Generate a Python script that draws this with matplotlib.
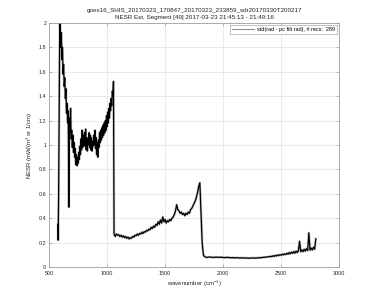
import numpy as np
import matplotlib
matplotlib.use("Agg")
import matplotlib.pyplot as plt

plt.rcParams['font.family'] = ['Liberation Sans', 'DejaVu Sans']
plt.rcParams['mathtext.default'] = 'regular'

# ---- data (wavenumber segments and NESR values) ----
rise_wn = [576, 578, 582, 588, 592]
rise_val = [0.35, 0.22, 0.60, 1.40, 2.05]

lw_range = (595, 1055)
lw_val = [1.98, 1.80, 1.92, 1.70, 1.80, 1.58, 1.66, 1.48, 1.55, 1.38,
          1.46, 1.26, 1.34, 1.18, 1.28, 0.49, 1.22, 1.10, 1.30, 1.05,
          1.12, 0.98, 1.08, 0.94, 1.02, 0.90, 0.97, 0.84, 0.92, 0.83,
          0.90, 0.85, 0.94, 0.88, 0.99, 0.92, 1.05, 0.96, 1.12, 0.98,
          1.08, 1.00, 1.10, 0.99, 1.13, 0.96, 1.06, 0.95, 1.04, 1.00,
          1.10, 0.98, 1.08, 0.96, 1.06, 0.95, 1.03, 0.99, 1.08, 1.00,
          1.12, 0.97, 1.06, 0.92, 1.02, 0.90, 1.04, 0.98, 1.10, 1.02,
          1.12, 1.04, 1.14, 1.06, 1.16, 1.08, 1.18, 1.10, 1.20, 1.12,
          1.24, 1.15, 1.27, 1.18, 1.30, 1.22, 1.34, 1.28, 1.38, 1.32,
          1.44, 1.40, 1.52]

mw_range = (1060, 1800)
mw_val = [0.27, 0.25, 0.27, 0.26, 0.265, 0.25, 0.26, 0.245, 0.255, 0.24,
          0.25, 0.235, 0.245, 0.23, 0.24, 0.235, 0.25, 0.245, 0.26, 0.255,
          0.27, 0.26, 0.275, 0.27, 0.285, 0.275, 0.29, 0.285, 0.30, 0.295,
          0.31, 0.305, 0.325, 0.315, 0.335, 0.325, 0.35, 0.34, 0.37, 0.35,
          0.385, 0.36, 0.41, 0.37, 0.39, 0.36, 0.38, 0.37, 0.39, 0.38,
          0.40, 0.41, 0.43, 0.46, 0.51, 0.47, 0.46, 0.44, 0.45, 0.43,
          0.44, 0.42, 0.44, 0.43, 0.45, 0.44, 0.47, 0.48, 0.50, 0.52,
          0.54, 0.57, 0.61, 0.66, 0.69]

drop_wn = [1810, 1820, 1830]
drop_val = [0.45, 0.20, 0.10]

sw1_range = (1840, 2400)
sw1_val = [0.085, 0.078, 0.082, 0.080, 0.078, 0.081, 0.079, 0.080, 0.078, 0.077,
           0.079, 0.076, 0.077, 0.075, 0.076, 0.074, 0.075, 0.073, 0.074, 0.072,
           0.073, 0.074, 0.073, 0.075, 0.076, 0.078, 0.080, 0.082, 0.085]

sw2_range = (2410, 2800)
sw2_val = [0.088, 0.084, 0.092, 0.087, 0.095, 0.090, 0.098, 0.093, 0.101, 0.096,
           0.105, 0.099, 0.108, 0.102, 0.112, 0.105, 0.118, 0.108, 0.122, 0.112,
           0.126, 0.114, 0.130, 0.118, 0.135, 0.210, 0.125, 0.140, 0.126, 0.145,
           0.130, 0.150, 0.135, 0.280, 0.138, 0.155, 0.140, 0.162, 0.145, 0.230]

title_lines = ["goes16_SHIS_20170323_170847_20170323_233859_sdr20170330T200217",
               "NESR Est, Segment [49] 2017-03-23 21:45:13 - 21:49:16"]
legend_label = "std(rad - pc filt rad), # recs:  289"
xticks = [500, 1000, 1500, 2000, 2500, 3000]
yticks = [0, 0.2, 0.4, 0.6, 0.8, 1, 1.2, 1.4, 1.6, 1.8, 2]
ytick_labels = ['0', '0.2', '0.4', '0.6', '0.8', '1', '1.2', '1.4', '1.6', '1.8', '2']

# ---- assemble ----
def seg(rng, vals):
    return np.linspace(rng[0], rng[1], len(vals))

wn = np.concatenate([rise_wn, seg(lw_range, lw_val), seg(mw_range, mw_val),
                     drop_wn, seg(sw1_range, sw1_val), seg(sw2_range, sw2_val)])
val = np.concatenate([rise_val, lw_val, mw_val, drop_val, sw1_val, sw2_val])

fig = plt.figure(figsize=(3.75, 3.01), dpi=100)
ax = fig.add_axes([0.131, 0.113, 0.773, 0.811])
ax.plot(wn, val, color='#c4c4c4', lw=1.8, solid_joinstyle='round')
ax.plot(wn, val, color='black', lw=0.9, label=legend_label)

ax.set_xlim(500, 3000)
ax.set_ylim(0, 2)
ax.set_xticks(xticks)
ax.set_yticks(yticks)
ax.set_yticklabels(ytick_labels)
ax.grid(True, color='#e6e6e6', lw=0.6)
ax.set_axisbelow(True)
for s in ax.spines.values():
    s.set_color('#a0a0a0')
    s.set_linewidth(0.6)
ax.tick_params(direction='in', length=2, width=0.5, colors='#a0a0a0',
               labelcolor='#262626', labelsize=3.9, top=True, right=True)
ax.tick_params(axis='x', pad=3)
ax.tick_params(axis='y', pad=2)

ax.set_xlabel('wavenumber (cm$^{-1}$)', fontsize=4.3, color='#262626', labelpad=2)
ax.set_ylabel('NESR (mW/(m$^2$ sr 1/cm)', fontsize=4.3, color='#262626', labelpad=3)
ax.set_title("\n".join(title_lines), fontsize=4.5, color='#222222', pad=3,
             linespacing=1.35)

leg = ax.legend(loc='upper right', fontsize=4.0, frameon=True, fancybox=False,
                handlelength=3.8, borderaxespad=0.4, borderpad=0.35,
                handletextpad=0.6)
leg.get_frame().set_edgecolor('#909090')
leg.get_frame().set_linewidth(0.5)
leg.get_lines()[0].set_color('#555555')
leg.get_lines()[0].set_linewidth(0.5)

fig.savefig('out.png', dpi=100)
